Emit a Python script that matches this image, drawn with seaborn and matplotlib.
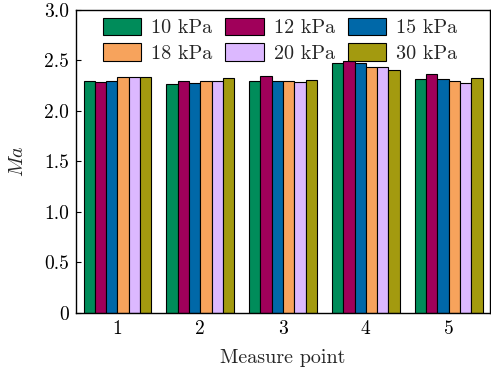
import seaborn as sns
import pandas as pd
import matplotlib.pyplot as plt
from matplotlib.ticker import FuncFormatter

points = ['1', '2', '3', '4', '5']
pressures = ['10 kPa', '12 kPa', '15 kPa', '18 kPa', '20 kPa', '30 kPa']
ma_10 = [2.30, 2.27, 2.30, 2.47, 2.32]
ma_12 = [2.29, 2.30, 2.35, 2.49, 2.37]
ma_15 = [2.30, 2.28, 2.30, 2.47, 2.32]
ma_18 = [2.34, 2.30, 2.30, 2.44, 2.30]
ma_20 = [2.34, 2.30, 2.29, 2.44, 2.28]
ma_30 = [2.34, 2.33, 2.31, 2.41, 2.33]
colors = ['#008c5a', '#a0005a', '#0068a8', '#f7a35c', '#dcb8ff', '#a39a0f']

rows = []
for p, vals in zip(pressures, [ma_10, ma_12, ma_15, ma_18, ma_20, ma_30]):
    for pt, v in zip(points, vals):
        rows.append([pt, p, v])
df = pd.DataFrame(rows, columns=['Measure point', 'Pressure', 'Ma'])

sns.set_style('ticks')
plt.rcParams['font.family'] = ['cmr10']
plt.rcParams['mathtext.fontset'] = 'cm'
plt.rcParams['axes.formatter.use_mathtext'] = True

fig = plt.figure(figsize=(4.91, 3.69), dpi=100)
ax = fig.add_axes([0.155, 0.152, 0.843, 0.821])
sns.barplot(data=df, x='Measure point', y='Ma', hue='Pressure',
            hue_order=pressures, palette=colors, width=0.82,
            edgecolor='black', linewidth=0.8, saturation=1, ax=ax)

ax.set_xlim(-0.5, 4.5)
ax.set_ylim(0, 3.0)
ax.set_yticks([0, 0.5, 1.0, 1.5, 2.0, 2.5, 3.0])
ax.yaxis.set_major_formatter(FuncFormatter(lambda v, _: '0' if v == 0 else f'{v:.1f}'))
ax.tick_params(direction='in', labelsize=14, length=3.5, width=0.8, colors='black', pad=5)
ax.set_xlabel('Measure point', fontsize=14.5, labelpad=8)
ax.set_ylabel('$Ma$', fontsize=14.5, labelpad=12)
for s in ax.spines.values():
    s.set_linewidth(1.0)
    s.set_color('black')

# row-major legend order (matplotlib fills columns first)
handles, labels = ax.get_legend_handles_labels()
order = [0, 3, 1, 4, 2, 5]
ax.legend([handles[i] for i in order], [labels[i] for i in order],
          ncol=3, frameon=False, loc='upper left', bbox_to_anchor=(0.035, 1.015),
          fontsize=14.5, handlelength=1.9, handleheight=0.95, columnspacing=0.65,
          handletextpad=0.5, labelspacing=0.3, borderaxespad=0.2)

fig.savefig('out.png', dpi=100)
